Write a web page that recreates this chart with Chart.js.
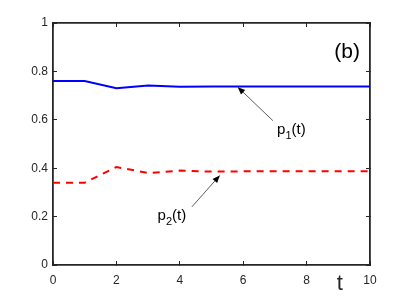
<!DOCTYPE html>
<html lang="en">
<head>
<meta charset="UTF-8" />
<title>p(t)</title>
<style>
  html, body { margin: 0; padding: 0; background: #fff; }
  .chart-container { width: 409px; height: 298px; }
</style>
</head>
<body>
<div class="chart-container">
  <canvas id="pChart"></canvas>
</div>
<script src="https://cdn.jsdelivr.net/npm/chart.js"></script>
<script>
  // values
  const tValues = [0, 1, 2, 3, 4, 5, 6, 7, 8, 9, 10];
  const p1Values = [0.76, 0.76, 0.73, 0.742, 0.737, 0.738, 0.738, 0.738, 0.738, 0.738, 0.738];
  const p2Values = [0.34, 0.34, 0.405, 0.38, 0.39, 0.386, 0.387, 0.387, 0.387, 0.387, 0.387];
  const xTicks = [0, 2, 4, 6, 8, 10];
  const yTicks = [0, 0.2, 0.4, 0.6, 0.8, 1];

  const axisColor = '#262626';
  const font = 'Liberation Sans, Arial, sans-serif';

  // text labels and arrows
  const decorations = {
    id: 'decorations',
    afterDraw(chart) {
      const ctx = chart.ctx;
      const xs = chart.scales.x, ys = chart.scales.y;
      const R = xs.getPixelForValue(10), B = ys.getPixelForValue(0);
      ctx.save();

      // (b)
      ctx.fillStyle = '#000';
      ctx.font = '21px ' + font;
      ctx.textAlign = 'right';
      ctx.textBaseline = 'middle';
      ctx.fillText('(b)', R - 10, ys.getPixelForValue(0.88));

      // x axis label
      ctx.font = '22px ' + font;
      ctx.textAlign = 'center';
      ctx.fillStyle = axisColor;
      ctx.fillText('t', xs.getPixelForValue(9.05), B + 19);

      // arrows
      function arrow(x0, y0, x1, y1) {
        const sx = xs.getPixelForValue(x0), sy = ys.getPixelForValue(y0);
        const ex = xs.getPixelForValue(x1), ey = ys.getPixelForValue(y1);
        const ang = Math.atan2(ey - sy, ex - sx);
        ctx.strokeStyle = '#333';
        ctx.fillStyle = '#000';
        ctx.lineWidth = 0.8;
        ctx.beginPath();
        ctx.moveTo(sx, sy); ctx.lineTo(ex, ey);
        ctx.stroke();
        ctx.beginPath();
        ctx.moveTo(ex, ey);
        ctx.lineTo(ex - 8 * Math.cos(ang - 0.4), ey - 8 * Math.sin(ang - 0.4));
        ctx.lineTo(ex - 8 * Math.cos(ang + 0.4), ey - 8 * Math.sin(ang + 0.4));
        ctx.closePath();
        ctx.fill();
      }
      arrow(6.94, 0.596, 5.83, 0.735);
      arrow(4.38, 0.24, 5.26, 0.37);

      // p_i(t) labels
      function label(sub, x, y) {
        let px = xs.getPixelForValue(x), py = ys.getPixelForValue(y);
        ctx.fillStyle = '#000';
        ctx.textAlign = 'left';
        ctx.textBaseline = 'alphabetic';
        ctx.font = '15px ' + font;
        ctx.fillText('p', px, py);
        px += ctx.measureText('p').width;
        ctx.font = '11px ' + font;
        ctx.fillText(sub, px, py + 5);
        px += ctx.measureText(sub).width;
        ctx.font = '15px ' + font;
        ctx.fillText('(t)', px, py);
      }
      label('1', 7.07, 0.54);
      label('2', 3.3, 0.185);
      ctx.restore();
    }
  };

  // inward tick marks, no grid inside the plot
  const boxGrid = { display: true, drawOnChartArea: false, drawTicks: true, tickLength: -4, color: axisColor, lineWidth: 1 };
  const boxBorder = { display: true, color: axisColor, width: 1.8 };

  new Chart(document.getElementById('pChart'), {
    type: 'line',
    data: {
      datasets: [{
        label: 'p1(t)',
        data: tValues.map((t, i) => ({ x: t, y: p1Values[i] })),
        borderColor: '#0000ff',
        borderWidth: 2,
        pointRadius: 0,
        fill: false,
        tension: 0
      }, {
        label: 'p2(t)',
        data: tValues.map((t, i) => ({ x: t, y: p2Values[i] })),
        borderColor: '#ff0000',
        borderWidth: 2,
        borderDash: [7, 6],
        pointRadius: 0,
        fill: false,
        tension: 0
      }]
    },
    options: {
      responsive: true,
      maintainAspectRatio: false,
      animation: false,
      layout: { padding: { left: 0, top: 23, right: 39, bottom: 0 } },
      plugins: { legend: { display: false }, tooltip: { enabled: false } },
      scales: {
        x: {
          type: 'linear',
          min: 0, max: 10,
          afterBuildTicks: s => { s.ticks = xTicks.map(v => ({ value: v })); },
          afterFit: s => { s.height = 33; },
          grid: boxGrid,
          border: boxBorder,
          ticks: { color: axisColor, font: { family: font, size: 12 }, padding: 12, maxRotation: 0,
                   callback: v => String(v) }
        },
        x2: {
          type: 'linear',
          position: 'top',
          min: 0, max: 10,
          afterBuildTicks: s => { s.ticks = xTicks.map(v => ({ value: v })); },
          afterFit: s => { s.height = 0; },
          grid: boxGrid,
          border: boxBorder,
          ticks: { display: false }
        },
        y: {
          min: 0, max: 1,
          afterBuildTicks: s => { s.ticks = yTicks.map(v => ({ value: v })); },
          afterFit: s => { s.width = 53; },
          grid: boxGrid,
          border: boxBorder,
          ticks: { color: axisColor, font: { family: font, size: 12 }, padding: 9,
                   callback: v => String(Math.round(v * 10) / 10) }
        },
        y2: {
          position: 'right',
          min: 0, max: 1,
          afterBuildTicks: s => { s.ticks = yTicks.map(v => ({ value: v })); },
          afterFit: s => { s.width = 0; },
          grid: boxGrid,
          border: boxBorder,
          ticks: { display: false }
        }
      }
    },
    plugins: [decorations]
  });
</script>
</body>
</html>
